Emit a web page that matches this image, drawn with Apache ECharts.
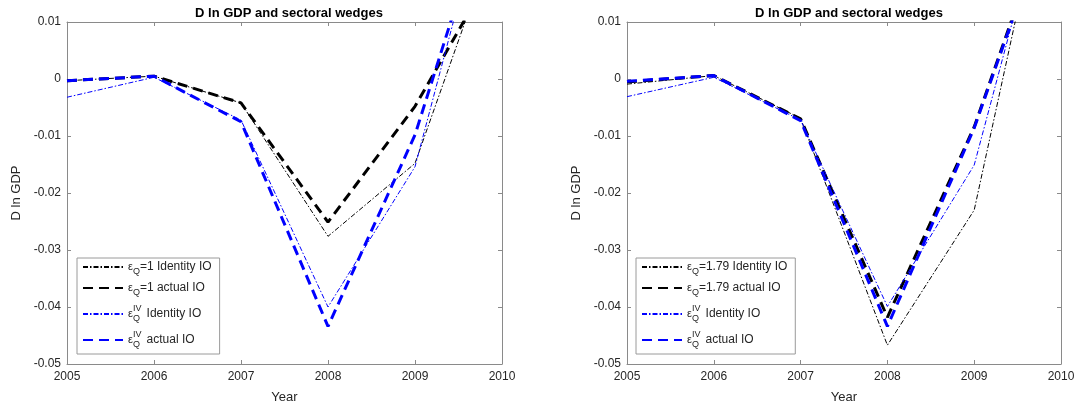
<!DOCTYPE html>
<html>
<head>
<meta charset="utf-8">
<script src="https://cdn.jsdelivr.net/npm/echarts@6/dist/echarts.min.js"></script>
<style>
html, body { margin: 0; padding: 0; background: #fff; }
#main { width: 1081px; height: 409px; }
</style>
</head>
<body>
<div id="main"></div>
<script>
var years = [2005, 2006, 2007, 2008, 2009, 2010];

// left panel: eps_Q = 1
var leftIdentityOne = [-0.0003, 0.0005, -0.0042, -0.0276, -0.0148, 0.0283];
var leftActualOne   = [-0.0003, 0.0005, -0.0042, -0.0251, -0.0048, 0.0218];
var leftIdentityIV  = [-0.0032, 0.0003, -0.0072, -0.0400, -0.0154, 0.0423];
var leftActualIV    = [-0.0003, 0.0005, -0.0075, -0.0434, -0.0098, 0.0385];

// right panel: eps_Q = 1.79
var rightIdentityOne = [-0.0009, 0.0006, -0.0069, -0.0467, -0.0230, 0.0470];
var rightActualOne   = [-0.0005, 0.0006, -0.0070, -0.0418, -0.0084, 0.0350];
var rightIdentityIV  = [-0.0031, 0.0003, -0.0072, -0.0399, -0.0151, 0.0420];
var rightActualIV    = [-0.0004, 0.0006, -0.0073, -0.0434, -0.0086, 0.0345];

var yMin = -0.05, yMax = 0.01, yStep = 0.01;
var xMin = 2005, xMax = 2010;

var font = 'Liberation Sans, Arial, sans-serif';
var axisGray = '#8a8a8a';
var textGray = '#262626';

var chart = echarts.init(document.getElementById('main'));

function pairs(vals) {
	return years.map(function (y, i) { return [y, vals[i]]; });
}

var dashDot = [5, 2, 1.5, 2];
var dashed = [10, 6];

function line(name, vals, color, thick, gi) {
	return {
		name: name,
		type: 'line',
		xAxisIndex: gi * 2,
		yAxisIndex: gi * 2,
		data: pairs(vals),
		symbol: 'none',
		clip: true,
		color: color,
		lineStyle: {
			color: color,
			width: thick ? 3 : 1,
			type: thick ? dashed : dashDot
		}
	};
}

var grids = [
	{ left: 67, top: 22, width: 435, height: 342 },
	{ left: 627, top: 22, width: 434, height: 342 }
];

var xAxes = [], yAxes = [];
[0, 1].forEach(function (g) {
	xAxes.push({
		type: 'value', gridIndex: g, min: xMin, max: xMax, interval: 1,
		name: 'Year', nameLocation: 'middle', nameGap: 27,
		nameTextStyle: { fontFamily: font, fontSize: 13, color: textGray },
		axisLine: { onZero: false, lineStyle: { color: axisGray } },
		axisTick: { inside: true, length: 4, lineStyle: { color: axisGray } },
		axisLabel: { fontFamily: font, fontSize: 12, color: textGray, margin: 7,
			formatter: function (v) { return String(v); } },
		splitLine: { show: false }
	});
	xAxes.push({
		type: 'value', gridIndex: g, min: xMin, max: xMax, interval: 1, position: 'top',
		axisLine: { onZero: false, lineStyle: { color: axisGray } },
		axisTick: { inside: true, length: 4, lineStyle: { color: axisGray } },
		axisLabel: { show: false },
		splitLine: { show: false }
	});
	yAxes.push({
		type: 'value', gridIndex: g, min: yMin, max: yMax, interval: yStep,
		name: 'D ln GDP', nameLocation: 'middle', nameGap: 44,
		nameTextStyle: { fontFamily: font, fontSize: 13, color: textGray },
		axisLine: { show: true, onZero: false, lineStyle: { color: axisGray } },
		axisTick: { show: true, inside: true, length: 4, lineStyle: { color: axisGray } },
		axisLabel: {
			fontFamily: font, fontSize: 12, color: textGray, margin: 6,
			formatter: function (v) { return Math.abs(v) < 1e-9 ? '0' : String(Math.round(v * 100) / 100); }
		},
		splitLine: { show: false }
	});
	yAxes.push({
		type: 'value', gridIndex: g, min: yMin, max: yMax, interval: yStep, position: 'right',
		axisLine: { show: true, onZero: false, lineStyle: { color: axisGray } },
		axisTick: { show: true, inside: true, length: 4, lineStyle: { color: axisGray } },
		axisLabel: { show: false },
		splitLine: { show: false }
	});
});

var legendNames = {
	'L1': '{e|\u03b5}{s|Q}{t|=1 Identity IO}',
	'L2': '{e|\u03b5}{s|Q}{t|=1 actual IO}',
	'L3': '{e|\u03b5}{p|IV}{s|Q}{t|  Identity IO}',
	'L4': '{e|\u03b5}{p|IV}{s|Q}{t|  actual IO}',
	'R1': '{e|\u03b5}{s|Q}{t|=1.79 Identity IO}',
	'R2': '{e|\u03b5}{s|Q}{t|=1.79 actual IO}',
	'R3': '{e|\u03b5}{p|IV}{s|Q}{t|  Identity IO}',
	'R4': '{e|\u03b5}{p|IV}{s|Q}{t|  actual IO}'
};

var rich = {
	e: { fontFamily: font, fontSize: 11, color: textGray, lineHeight: 22, verticalAlign: 'middle' },
	s: { fontFamily: font, fontSize: 9, color: textGray, lineHeight: 22, verticalAlign: 'bottom', padding: [0, 0, 2, 0] },
	p: { fontFamily: font, fontSize: 9, color: textGray, lineHeight: 22, verticalAlign: 'top', width: 0, padding: [1, 0, 0, 0] },
	t: { fontFamily: font, fontSize: 12, color: textGray, lineHeight: 22, verticalAlign: 'middle' }
};

function legend(left, names) {
	return {
		left: left, top: 258, orient: 'vertical',
		data: names,
		backgroundColor: '#fff',
		borderColor: '#9a9a9a', borderWidth: 1, borderRadius: 0,
		padding: [3, 8, 3, 5],
		itemGap: 4, itemWidth: 40, itemHeight: 12,
		itemStyle: { opacity: 0 },
		textStyle: { rich: rich },
		formatter: function (n) { return legendNames[n]; }
	};
}

var option = {
	animation: false,
	backgroundColor: '#fff',
	title: [
		{ text: 'D ln GDP and sectoral wedges', left: 284, top: 2, textAlign: 'center',
		  textStyle: { fontFamily: font, fontSize: 13, fontWeight: 'bold', color: '#000' } },
		{ text: 'D ln GDP and sectoral wedges', left: 844, top: 2, textAlign: 'center',
		  textStyle: { fontFamily: font, fontSize: 13, fontWeight: 'bold', color: '#000' } }
	],
	grid: grids,
	xAxis: xAxes,
	yAxis: yAxes,
	legend: [
		legend(77, ['L1', 'L2', 'L3', 'L4']),
		legend(636, ['R1', 'R2', 'R3', 'R4'])
	],
	series: [
		line('L1', leftIdentityOne, '#000000', false, 0),
		line('L2', leftActualOne, '#000000', true, 0),
		line('L3', leftIdentityIV, '#0000ff', false, 0),
		line('L4', leftActualIV, '#0000ff', true, 0),
		line('R1', rightIdentityOne, '#000000', false, 1),
		line('R2', rightActualOne, '#000000', true, 1),
		line('R3', rightIdentityIV, '#0000ff', false, 1),
		line('R4', rightActualIV, '#0000ff', true, 1)
	]
};

chart.setOption(option);
</script>
</body>
</html>
